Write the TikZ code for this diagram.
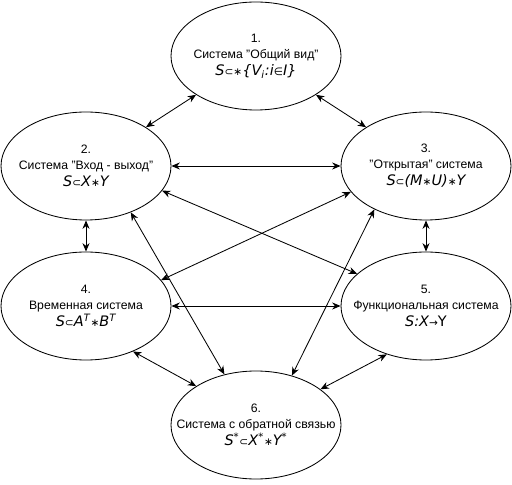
\documentclass[tikz,border=0pt]{standalone}
\usepackage{fontspec}
\setmainfont{Liberation Sans}
\newfontfamily\fmlfont{DejaVu Sans}
\usetikzlibrary{arrows.meta,shapes.geometric}
\newcommand{\fml}[1]{{\fmlfont\itshape\fontsize{10.3}{12}\selectfont #1}}
\newcommand{\ssym}[1]{{\upshape\fontsize{7.5}{8}\selectfont #1}}

\begin{document}
\begin{tikzpicture}[
  sys/.style={ellipse,draw,line width=0.6pt,minimum width=4.25cm,minimum height=2.7cm,
    inner xsep=-6mm,inner ysep=-4mm,align=center,font=\fontsize{8.7}{11.3}\selectfont},
  arr/.style={{Stealth[length=6pt,width=5pt]}-{Stealth[length=6pt,width=5pt]},line width=0.6pt}
]
  \useasboundingbox (0,0) rectangle (12.8,12.1);
  \node[sys] (gen)  at (6.4,10.7)  {1.\\ Система "Общий вид"\\[1pt]
    \fml{S\ssym{⊂∗}\{V\textsubscript{i}:i\ssym{∈}I\}}};
  \node[sys] (io)   at (2.15,7.95) {2.\\ Система "Вход - выход"\\[1pt]
    \fml{S\ssym{⊂}X\ssym{∗}Y}};
  \node[sys] (open) at (10.65,7.95) {3.\\ "Открытая" система\\[1pt]
    \fml{S\ssym{⊂}(M\ssym{∗}U)\ssym{∗}Y}};
  \node[sys] (temp) at (2.15,4.45) {4.\\ Временная система\\[1pt]
    \fml{S\ssym{⊂}A\textsuperscript{T}\ssym{∗}B\textsuperscript{T}}};
  \node[sys] (func) at (10.65,4.45) {5.\\ Функциональная система\\[1pt]
    \fml{S:X\ssym{→}\upshape Y}};
  \node[sys] (fb)   at (6.4,1.475) {6.\\ Система с обратной связью\\[1pt]
    \fml{S\textsuperscript{*}\ssym{⊂}X\textsuperscript{*}\ssym{∗}Y\textsuperscript{*}}};
  % links between the systems
  \draw[arr] (gen) -- (io);
  \draw[arr] (gen) -- (open);
  \draw[arr] (io) -- (open);
  \draw[arr] (io) -- (temp);
  \draw[arr] (open) -- (func);
  \draw[arr] (temp) -- (func);
  \draw[arr] (io.-18) -- (func.155);
  \draw[arr] (temp.19) -- (open.199);
  \draw[arr] (io.-46) -- (fb.122);
  \draw[arr] (open.220) -- (fb.54);
  \draw[arr] (temp.-44) -- (fb.147);
  \draw[arr] (func.-129) -- (fb.29);
\end{tikzpicture}
\end{document}
